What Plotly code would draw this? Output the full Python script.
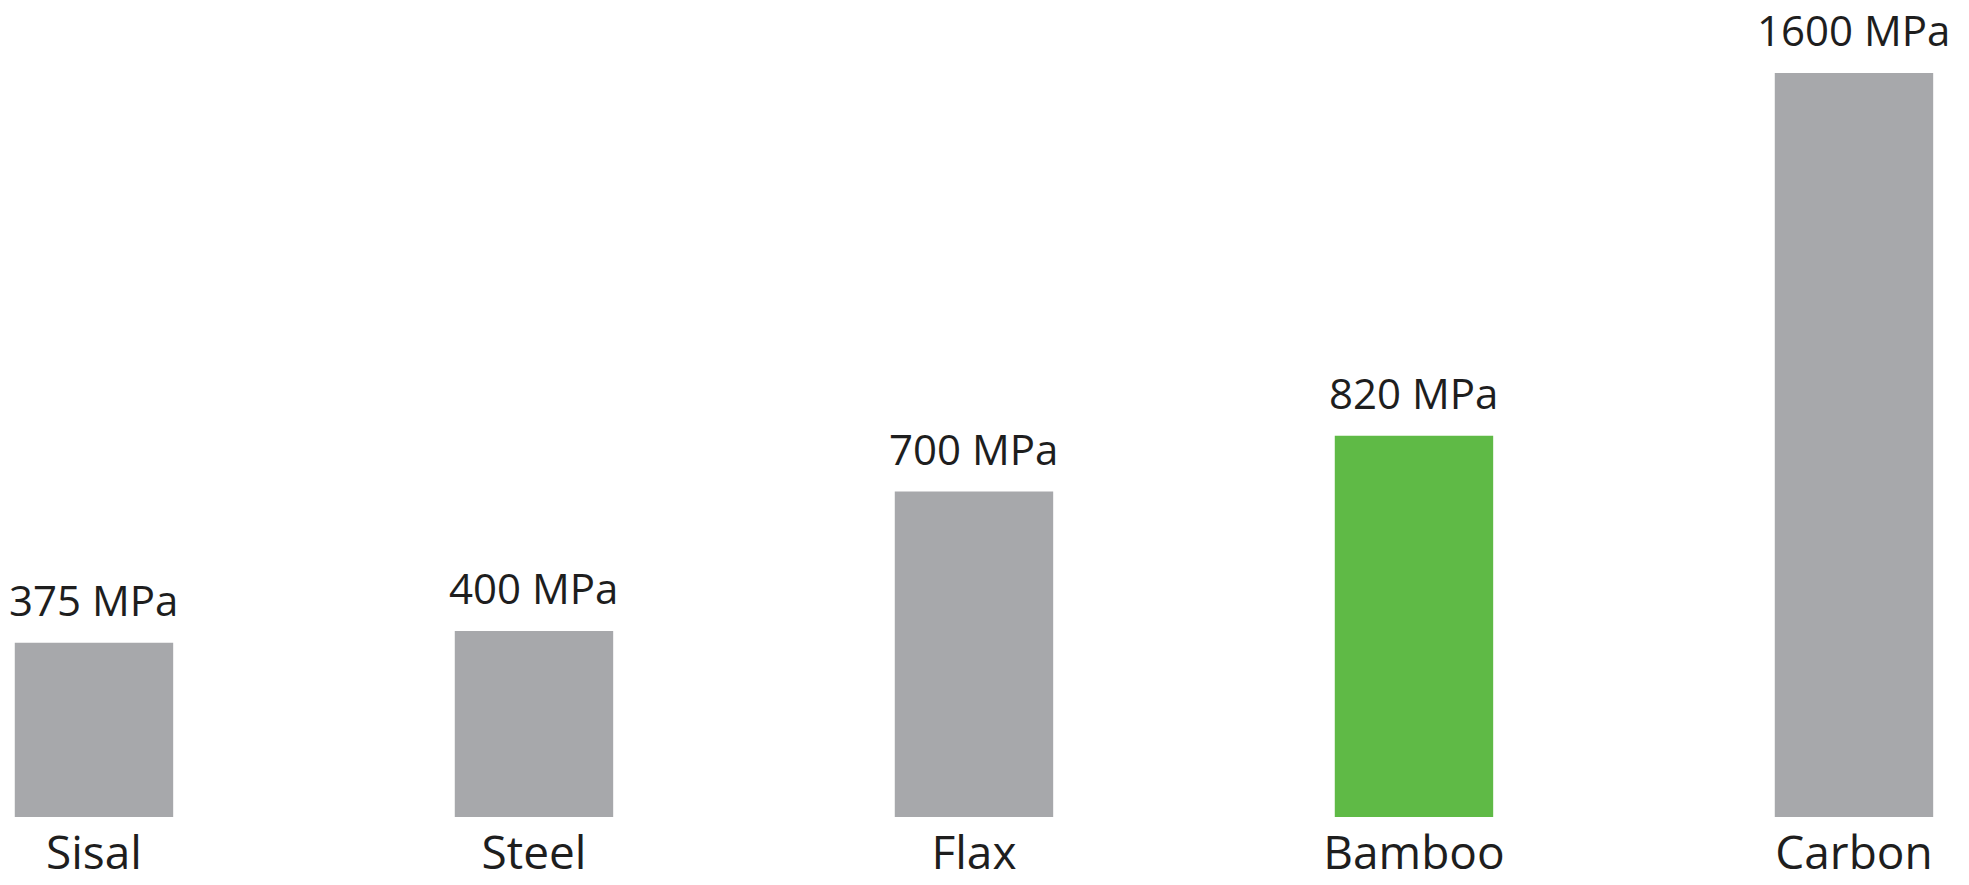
import plotly.graph_objects as go

materials = ["Sisal", "Steel", "Flax", "Bamboo", "Carbon"]
strength_mpa = [375, 400, 700, 820, 1600]
value_labels = ["375 MPa", "400 MPa", "700 MPa", "820 MPa", "1600 MPa"]
bar_colors = ["#A7A8AB", "#A7A8AB", "#A7A8AB", "#5FBA46", "#A7A8AB"]

FONT = "Open Sans"
TEXT_COLOR = "#1E1E1E"

fig = go.Figure()
fig.add_trace(go.Bar(
    x=materials,
    y=strength_mpa,
    marker=dict(color=bar_colors, line=dict(width=0)),
    width=0.36,
    hoverinfo="x+y",
))

for m, v, lab in zip(materials, strength_mpa, value_labels):
    fig.add_annotation(
        x=m, y=v, text=lab, showarrow=False,
        xanchor="center", yanchor="bottom", yshift=14, borderpad=0,
        font=dict(family=FONT, size=42, color=TEXT_COLOR),
    )

fig.update_layout(
    width=1969, height=885,
    margin=dict(l=0, r=0, t=0, b=68, autoexpand=False),
    paper_bgcolor="white", plot_bgcolor="white",
    showlegend=False,
    xaxis=dict(
        type="category",
        range=[-0.2136, 4.2614],
        automargin=False,
        showgrid=False, zeroline=False, showline=False,
        ticks="", ticklabelstandoff=5,
        tickfont=dict(family=FONT, size=46, color=TEXT_COLOR),
    ),
    yaxis=dict(
        range=[0, 1757],
        visible=False, showgrid=False, zeroline=False,
    ),
)

fig.write_html("out.html")
